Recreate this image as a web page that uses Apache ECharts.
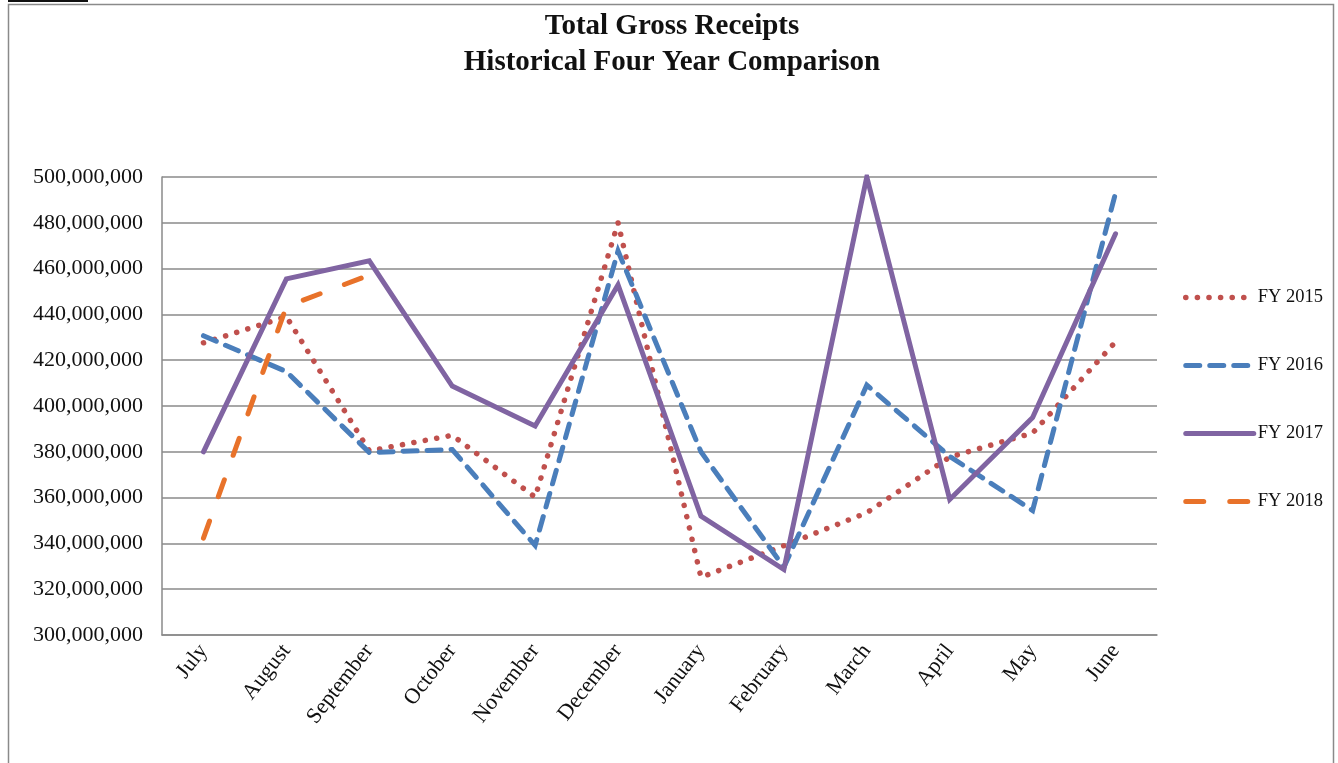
<!DOCTYPE html>
<html>
<head>
<meta charset="utf-8">
<script src="https://cdn.jsdelivr.net/npm/echarts@6/dist/echarts.min.js"></script>
<style>
  html, body { margin: 0; padding: 0; background: #fff; }
  #main { width: 1338px; height: 763px; }
</style>
</head>
<body>
<div id="main"></div>
<script>
const months = ["July", "August", "September", "October", "November", "December",
  "January", "February", "March", "April", "May", "June"];

// values in dollars
const fy2015 = [427.6e6, 439e6, 380.4e6, 387.2e6, 360.2e6, 480e6, 325.2e6, 339e6, 353.4e6, 377.7e6, 388.2e6, 428e6];
const fy2016 = [430.7e6, 415e6, 379.7e6, 381e6, 339.1e6, 467.7e6, 380e6, 329.6e6, 409.1e6, 378e6, 354.4e6, 493e6];
const fy2017 = [380e6, 455.5e6, 463.4e6, 408.7e6, 391.3e6, 452.9e6, 351.9e6, 328.6e6, 500e6, 359.2e6, 395e6, 475.2e6];
const fy2018 = [342.3e6, 443.4e6, 457.2e6];

const yMin = 300e6;
const yMax = 500e6;
const yStep = 20e6;

const serif = "'Liberation Serif', 'DejaVu Serif', serif";

const chart = echarts.init(document.getElementById("main"));

const lineSeries = (name, data, color, width, dash) => ({
  name: name,
  type: "line",
  data: data,
  symbol: "none",
  animation: false,
  lineStyle: { color: color, width: width, type: dash, cap: "round", join: "miter" },
  itemStyle: { color: color },
});

chart.setOption({
  backgroundColor: "#fff",
  title: {
    text: "Total Gross Receipts\nHistorical Four Year Comparison",
    left: 667,
    top: 4,
    textAlign: "center",
    textStyle: { fontFamily: serif, fontSize: 29, fontWeight: "bold", color: "#111", lineHeight: 36 },
  },
  graphic: [
    { type: "rect", shape: { x: 8.5, y: 4.5, width: 1325, height: 770 },
      style: { fill: null, stroke: "#8a8a8a", lineWidth: 1.5 }, silent: true },
    { type: "rect", shape: { x: 8, y: 0, width: 80, height: 2 },
      style: { fill: "#111" }, silent: true },
  ],
  grid: { left: 162, right: 181, top: 177, bottom: 128 },
  legend: {
    orient: "vertical",
    left: 1178,
    top: 283,
    itemWidth: 68,
    itemHeight: 20,
    itemGap: 49,
    itemStyle: { opacity: 0 },
    lineStyle: { width: "inherit", type: "inherit", cap: "inherit" },
    textStyle: { fontFamily: serif, fontSize: 18.5, color: "#111", padding: [0, 0, 0, -1] },
    data: ["FY 2015", "FY 2016", "FY 2017", "FY 2018"],
  },
  xAxis: {
    type: "category",
    data: months,
    boundaryGap: true,
    axisLine: { lineStyle: { color: "#8a8a8a", width: 1.5 } },
    axisTick: { show: false },
    axisLabel: { rotate: 52, fontFamily: serif, fontSize: 22, color: "#111", margin: 12, interval: 0 },
  },
  yAxis: {
    type: "value",
    min: yMin,
    max: yMax,
    interval: yStep,
    axisLine: { show: true, lineStyle: { color: "#8a8a8a", width: 1.5 } },
    axisTick: { show: false },
    splitLine: { lineStyle: { color: "#8a8a8a", width: 1.5 } },
    axisLabel: {
      fontFamily: serif, fontSize: 22, color: "#111", margin: 19,
      formatter: (v) => v.toLocaleString("en-US"),
    },
  },
  series: [
    lineSeries("FY 2015", fy2015, "#c0504d", 5.5, [0.1, 11.5]),
    lineSeries("FY 2016", fy2016, "#4a7ebb", 5, [14, 10]),
    lineSeries("FY 2017", fy2017, "#8064a2", 5, "solid"),
    lineSeries("FY 2018", fy2018, "#e8722a", 5, [18, 26]),
  ],
});
</script>
</body>
</html>
